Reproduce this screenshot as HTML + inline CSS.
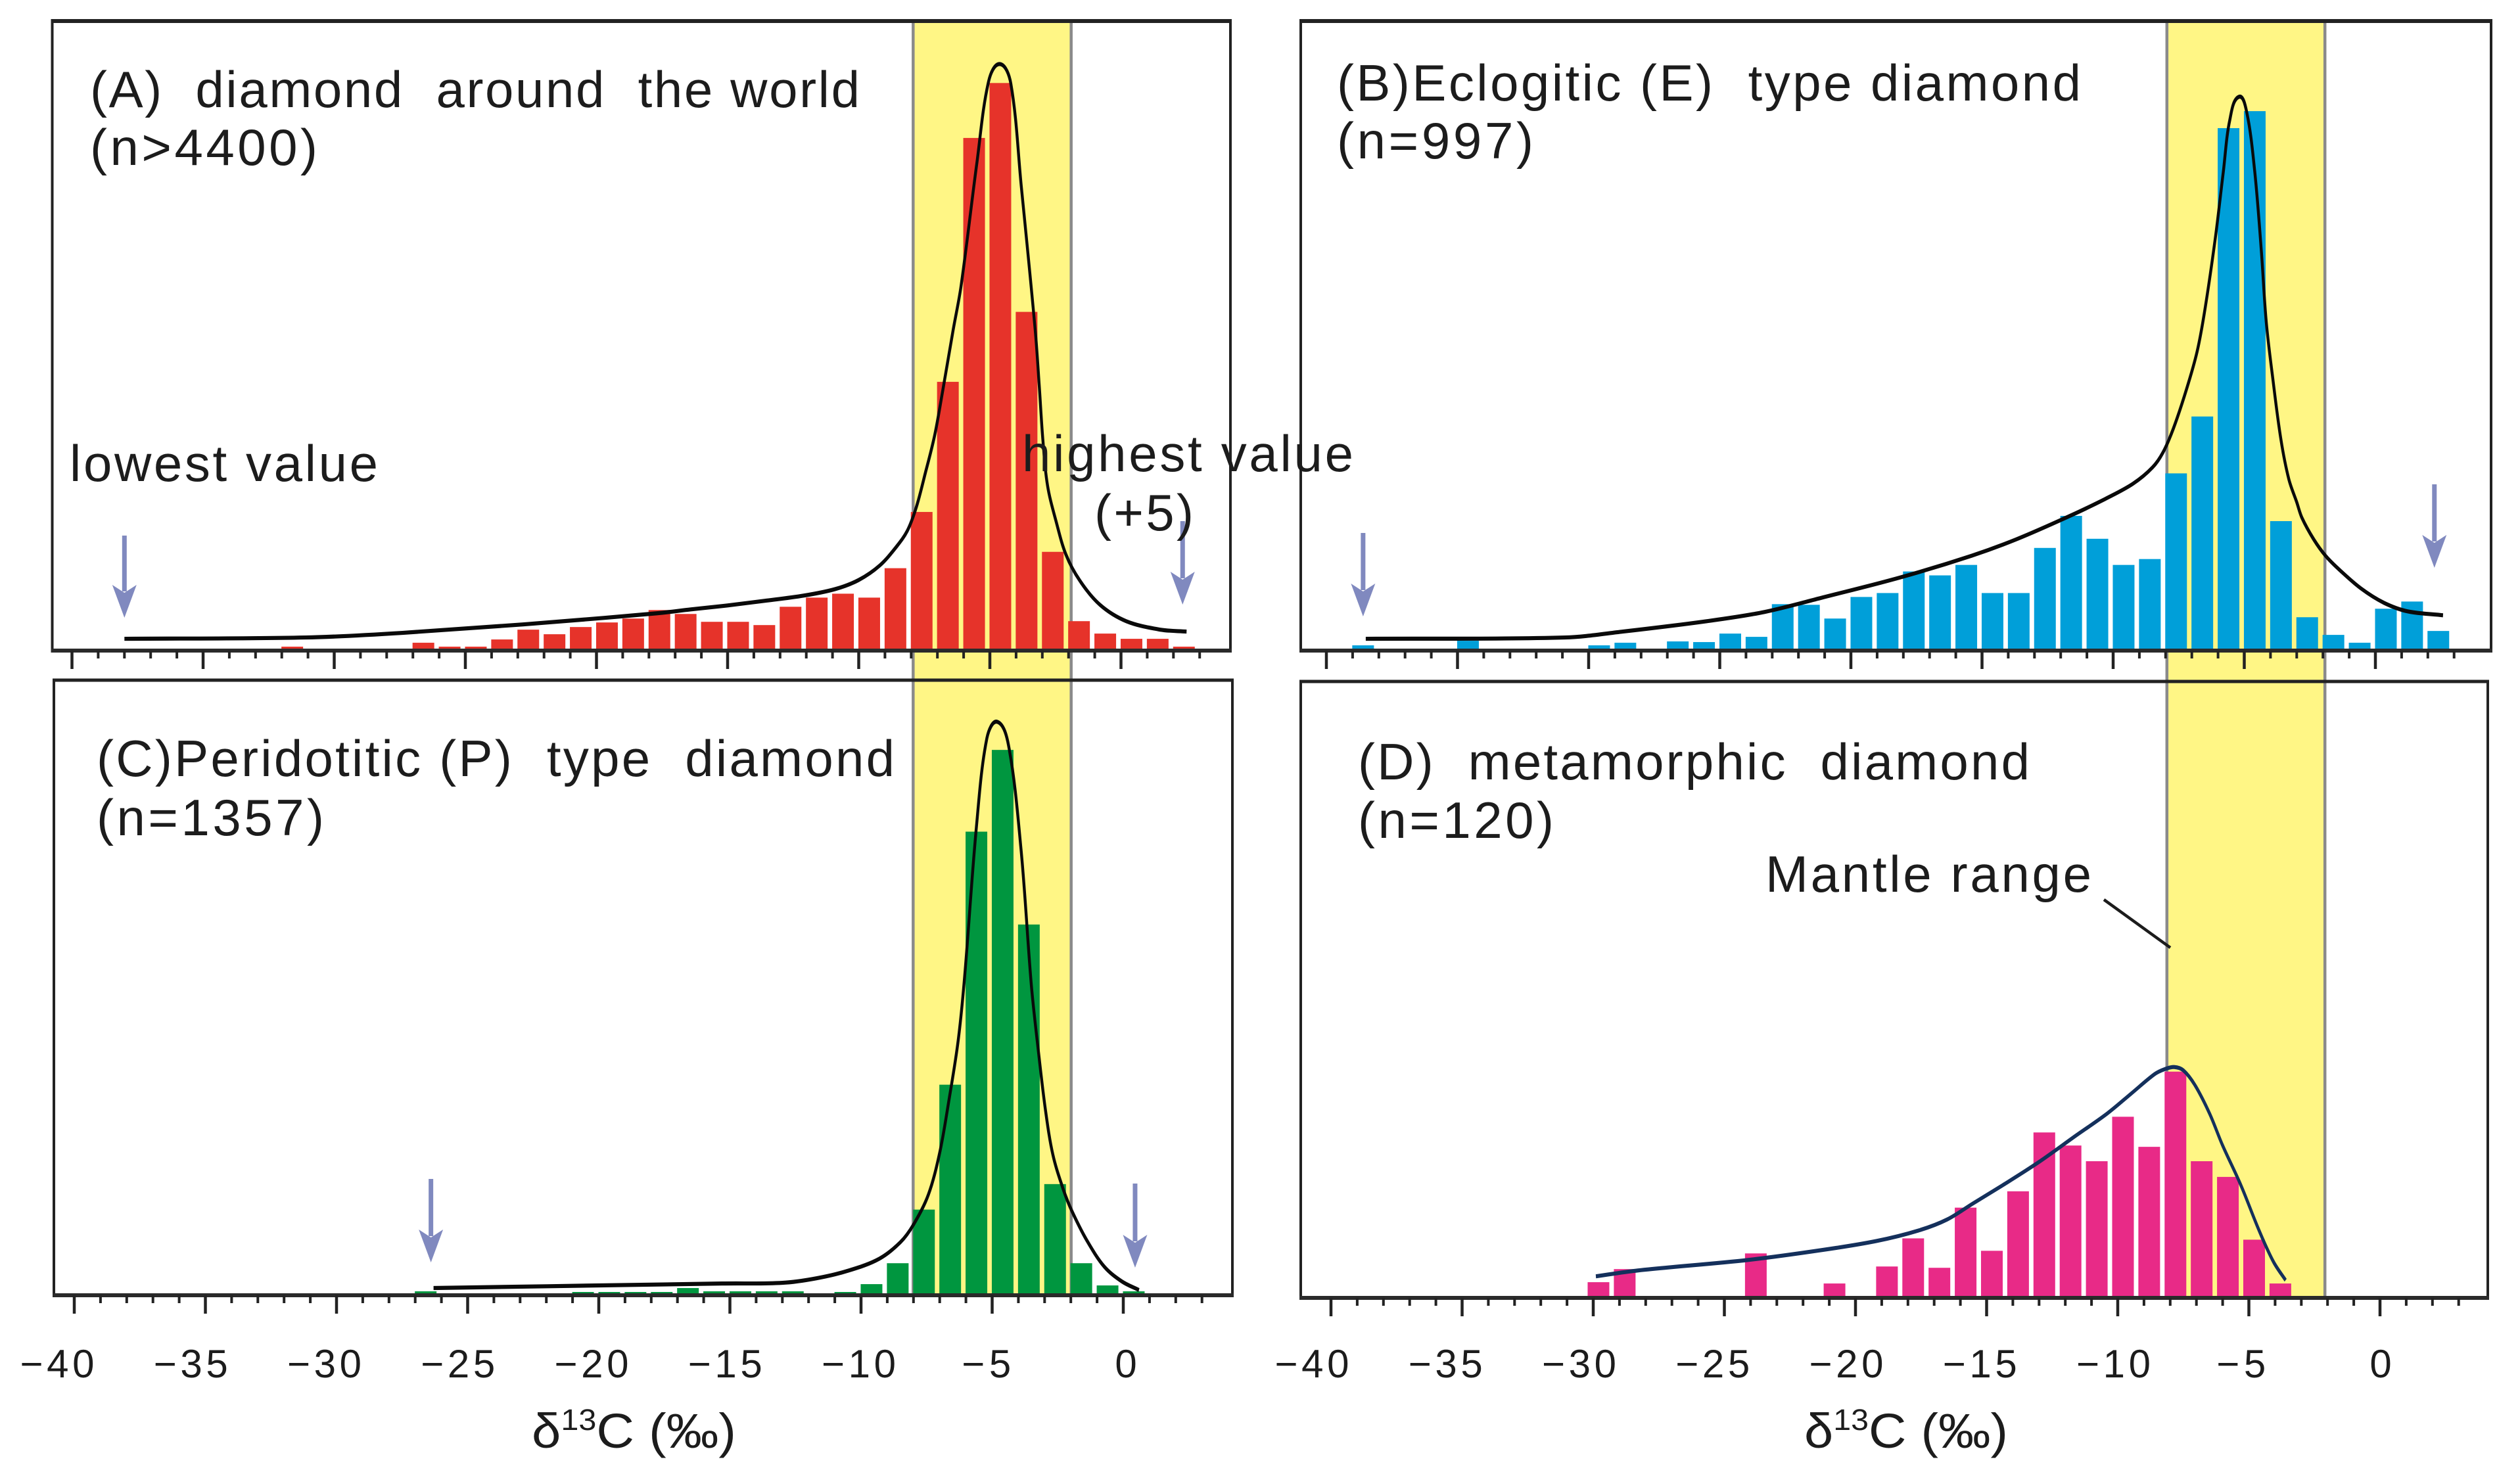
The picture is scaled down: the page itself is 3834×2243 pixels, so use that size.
<!DOCTYPE html>
<html lang="en">
<head>
<meta charset="utf-8">
<title>Diamond carbon isotope histograms</title>
<style>
html,body{margin:0;padding:0;background:#fff;}
svg{display:block;}
text{font-family:"Liberation Sans",Arial,sans-serif;fill:#1c1c1c;white-space:pre;}
</style>
</head>
<body>
<svg id="chart" xmlns="http://www.w3.org/2000/svg" width="3834" height="2243" viewBox="0 0 3834 2243">
  <rect x="0" y="0" width="3834" height="2243" fill="#ffffff"/>
  <g id="bands"></g>
  <g id="marks"></g>
  <g id="frames"></g>
  <g id="arrows"></g>
  <g id="labels"></g>
  <g font-size="78">
    <text x="137" y="163" textLength="1171" xml:space="preserve">(A)  diamond  around  the world</text>
    <text x="137" y="251" textLength="346">(n&gt;4400)</text>
    <text x="106" y="732" textLength="469">lowest value</text>
    <text x="1555" y="717" textLength="504">highest value</text>
    <text x="1665" y="807" textLength="151">(+5)</text>
    <text x="2034" y="153" textLength="1132" xml:space="preserve">(B)Eclogitic (E)  type diamond</text>
    <text x="2034" y="241" textLength="299">(n=997)</text>
    <text x="147" y="1181" textLength="1214" xml:space="preserve">(C)Peridotitic (P)  type  diamond</text>
    <text x="147" y="1271" textLength="346">(n=1357)</text>
    <text x="2066" y="1186" textLength="1022" xml:space="preserve">(D)  metamorphic  diamond</text>
    <text x="2066" y="1275" textLength="298">(n=120)</text>
    <text x="2686" y="1357" textLength="496">Mantle range</text>
    <line x1="3201" y1="1369" x2="3302" y2="1442" stroke="#1c1c1c" stroke-width="4.5"/>
  </g>
  <g font-size="74">
    <text x="809" y="2203" textLength="311" lengthAdjust="spacingAndGlyphs">δ<tspan font-size="45" dy="-27">13</tspan><tspan dy="27">C (‰)</tspan></text>
    <text x="2745" y="2203" textLength="310" lengthAdjust="spacingAndGlyphs">δ<tspan font-size="45" dy="-27">13</tspan><tspan dy="27">C (‰)</tspan></text>
  </g>
</svg>
<script>
// Axis ticks and labels
const majorTicks = [-40, -35, -30, -25, -20, -15, -10, -5, 0];
const minorTicks = [-39,-38,-37,-36,-34,-33,-32,-31,-29,-28,-27,-26,-24,-23,-22,-21,-19,-18,-17,-16,-14,-13,-12,-11,-9,-8,-7,-6,-4,-3,-2,-1,1,2,3];
const mantleRange = [-8, -2];

// Panel A: diamond around the world
const aBins = [-31.6,-26.6,-25.6,-24.6,-23.6,-22.6,-21.6,-20.6,-19.6,-18.6,-17.6,-16.6,-15.6,-14.6,-13.6,-12.6,-11.6,-10.6,-9.6,-8.6,-7.6,-6.6,-5.6,-4.6,-3.6,-2.6,-1.6,-0.6,0.4,1.4,2.4];
const aValues = [0.4,1.0,0.4,0.4,1.5,3.0,2.3,3.4,4.1,4.7,6.0,5.4,4.2,4.2,3.7,6.5,7.9,8.5,7.9,12.4,21.0,40.9,78.2,86.6,51.6,14.9,4.3,2.4,1.6,1.6,0.4];
const aCurveX = [-38,-31.1,-27.4,-22.8,-17.7,-16.4,-15,-13.6,-12.1,-10.9,-10,-9.2,-8.6,-8.15,-7.8,-7.45,-7.1,-6.8,-6.4,-6.1,-5.5,-5.05,-4.62,-4.2,-3.8,-3.27,-3.12,-2.98,-2.8,-2.47,-2.1,-1.57,-0.8,0.2,1.5,2.5];
const aCurveY = [1.6,1.8,2.5,3.8,5.5,6.1,6.7,7.4,8.2,9.2,10.6,12.8,15.5,18.1,21.8,27.1,32.8,39.5,48.8,55.5,74.2,86.8,89.5,86.5,70.7,48.8,40.5,32.1,25.0,19.5,14.5,10.5,6.8,4.3,3,2.7];

// Panel B: eclogitic diamond
const bBins = [-38.6,-34.6,-29.6,-28.6,-26.6,-25.6,-24.6,-23.6,-22.6,-21.6,-20.6,-19.6,-18.6,-17.6,-16.6,-15.6,-14.6,-13.6,-12.6,-11.6,-10.6,-9.6,-8.6,-7.6,-6.6,-5.6,-4.6,-3.6,-2.6,-1.6,-0.6,0.4,1.4,2.4];
const bValues = [0.6,1.3,0.6,1.0,1.2,1.1,2.4,1.9,6.9,6.8,4.7,8.0,8.6,11.9,11.3,12.9,8.6,8.6,15.5,20.4,16.9,12.9,13.8,26.9,35.6,79.7,82.3,19.6,4.9,2.2,1.0,6.2,7.3,2.8];
const bCurveX = [-38.5,-30.9,-28.7,-25.5,-23.3,-21.1,-18.1,-15.4,-13.7,-11.7,-10.3,-9.25,-8.5,-8.1,-7.7,-7.2,-6.8,-6.5,-6.1,-5.8,-5.55,-5.2,-4.9,-4.6,-4.35,-4.16,-3.9,-3.6,-3.3,-3.0,-2.8,-2.35,-1.9,-1.33,-0.55,0.33,1.23,2.58];
const bCurveY = [1.6,1.8,2.7,4.3,5.7,7.9,11,14.3,16.8,20.3,23,25.3,27.8,30.1,33.8,39.8,45.5,52,63,73,81,84.5,82,73,61,50,41,32,26,22.5,20.1,16.8,14.3,12,9.3,7.1,5.8,5.2];

// Panel C: peridotitic diamond
const cBins = [-26.6,-20.6,-19.6,-18.6,-17.6,-16.6,-15.6,-14.6,-13.6,-12.6,-10.6,-9.6,-8.6,-7.6,-6.6,-5.6,-4.6,-3.6,-2.6,-1.6,-0.6,0.4];
const cValues = [0.4,0.3,0.3,0.3,0.3,0.9,0.4,0.4,0.4,0.4,0.3,1.5,4.7,12.9,32.0,70.7,83.2,56.5,16.8,4.7,1.3,0.4];
const cCurveX = [-26.3,-15.3,-13,-11.7,-10.45,-9.3,-8.5,-8,-7.43,-7,-6.65,-6.3,-6.05,-5.6,-5.2,-4.8,-4.37,-3.9,-3.5,-3.23,-2.96,-2.68,-2.28,-1.95,-1.39,-0.73,-0.05,0.6];
const cCurveY = [0.9,1.6,1.7,2.4,3.6,5.4,7.9,10.6,15.2,21.6,29.6,38.6,48.5,71.5,85,87.5,83.8,68,47,36.9,27.9,21.2,15.9,12.6,8.2,4.2,1.9,0.6];

// Panel D: metamorphic diamond
const dBins = [-29.8,-28.8,-23.8,-20.8,-18.8,-17.8,-16.8,-15.8,-14.8,-13.8,-12.8,-11.8,-10.8,-9.8,-8.8,-7.8,-6.8,-5.8,-4.8,-3.8];
const dValues = [2.1,4.1,6.5,1.9,4.5,8.8,4.3,13.5,6.9,16.0,25.0,23.0,20.6,27.4,22.8,34.3,20.6,18.2,8.6,1.9];
const dCurveX = [-29.9,-28.3,-24.1,-21.3,-19.2,-17.6,-16.5,-15.5,-14.4,-13,-11.6,-10.4,-9.5,-8.6,-8.2,-7.85,-7.5,-7.05,-6.5,-6,-5.3,-4.6,-4.06,-3.6];
const dCurveY = [3,3.9,5.5,7,8.4,10,11.7,14.2,16.9,20.5,24.5,27.9,30.9,33.9,34.7,35,34.5,32.2,27.9,23,16.9,9.9,5.2,2.4];

const SVGNS = 'http://www.w3.org/2000/svg';
const STEP = 39.9;
const UNIT = 9.95;
const BAR_W = 33;
const LINE_SQUASH = 1.4;

const panels = [
  { key:'a', bins:aBins, vals:aValues, cx:aCurveX, cy:aCurveY, x0:1705.5, base:988, axisY:990, left:79.5, right:1872, top:32, color:'#e6332a', line:'#0a0a0a', labelX0:1713, showLabels:false },
  { key:'b', bins:bBins, vals:bValues, cx:bCurveX, cy:bCurveY, x0:3614, base:988, axisY:990, left:1979, right:3790, top:32, color:'#009fd9', line:'#0a0a0a', labelX0:3622, showLabels:false },
  { key:'c', bins:cBins, vals:cValues, cx:cCurveX, cy:cCurveY, x0:1709, base:1969, axisY:1971, left:82, right:1875, top:1035, color:'#00963f', line:'#0a0a0a', labelX0:1713, showLabels:true },
  { key:'d', bins:dBins, vals:dValues, cx:dCurveX, cy:dCurveY, x0:3621, base:1972, axisY:1975, left:1979, right:3785, top:1037, color:'#e82a87', line:'#14305c', labelX0:3622, showLabels:true }
];

function make(tag, attrs, parent) {
  const node = document.createElementNS(SVGNS, tag);
  for (const k in attrs) node.setAttribute(k, attrs[k]);
  parent.appendChild(node);
  return node;
}
function xScale(p, v) { return p.x0 + v * STEP; }
function yScale(p, f) { return p.base - f * UNIT; }
function tangent(a, b, len) {
  const dx = b[0] - a[0], dy = b[1] - a[1], d = Math.hypot(dx, dy) || 1;
  return [dx / d * len / 3, dy / d * len / 3];
}
function smoothPath(pts) {
  let d = 'M' + pts[0][0].toFixed(1) + ' ' + pts[0][1].toFixed(1);
  for (let i = 0; i < pts.length - 1; i++) {
    const p0 = pts[Math.max(0, i - 1)], p1 = pts[i], p2 = pts[i + 1], p3 = pts[Math.min(pts.length - 1, i + 2)];
    const len = Math.hypot(p2[0] - p1[0], p2[1] - p1[1]);
    const t1 = tangent(p0, p2, len), t2 = tangent(p1, p3, len);
    d += 'C' + (p1[0] + t1[0]).toFixed(1) + ' ' + (p1[1] + t1[1]).toFixed(1) + ' ' + (p2[0] - t2[0]).toFixed(1) + ' ' + (p2[1] - t2[1]).toFixed(1) + ' ' + p2[0].toFixed(1) + ' ' + p2[1].toFixed(1);
  }
  return d;
}

const bandLayer = document.getElementById('bands');
const markLayer = document.getElementById('marks');
const frameLayer = document.getElementById('frames');
const arrowLayer = document.getElementById('arrows');
const labelLayer = document.getElementById('labels');

// Mantle-range bands span the upper and lower panel in each column
[[panels[0], panels[2], 'left'], [panels[1], panels[3], 'right']].forEach(function (col) {
  const up = col[0], low = col[1];
  const xa = xScale(up, mantleRange[0]) + (col[2] === 'left' ? 3 : 2);
  const xb = xScale(up, mantleRange[1]) + (col[2] === 'left' ? 4 : 3);
  const band = make('rect', { x: xa, y: up.top + 3, width: xb - xa, height: low.axisY - up.top - 3, fill: '#fff685' }, bandLayer);
  
  
  [xa, xb].forEach(function (x, i) {
    const edge = make('line', { x1: x, x2: x, y1: up.top + 3, y2: low.axisY, stroke: '#8a8a8a', 'stroke-width': 4.5 }, bandLayer);
    
    
  });
});

panels.forEach(function (p) {
  const g = make('g', {}, markLayer);
  
  
  p.bins.forEach(function (bin, i) {
    const top = yScale(p, p.vals[i]);
    const bar = make('rect', { x: xScale(p, bin) - BAR_W / 2, y: top, width: BAR_W, height: p.base - top, fill: p.color }, g);
    
    
  });
  // The stroke is squashed so flat runs read heavier than steep ones, as in the source figure
  const pts = p.cx.map(function (v, i) { return [xScale(p, v), yScale(p, p.cy[i]) / LINE_SQUASH]; });
  const curve = make('path', { d: smoothPath(pts), fill: 'none', stroke: p.line, 'stroke-width': 4.4, 'stroke-linejoin': 'round', transform: 'scale(1 ' + LINE_SQUASH + ')' }, g);
  
  

  const fg = make('g', { stroke: '#222222', fill: 'none' }, frameLayer);
  
  
  const frame = make('rect', { x: p.left, y: p.top, width: p.right - p.left, height: p.axisY - p.top, 'stroke-width': 4 }, fg);
  
  
  const topEdge = make('line', { x1: p.left - 2, x2: p.right + 2, y1: p.top, y2: p.top, 'stroke-width': p.top < 100 ? 6 : 5 }, fg);
  
  
  const axis = make('line', { x1: p.left - 2, x2: p.right + 2, y1: p.axisY, y2: p.axisY, 'stroke-width': 6, stroke: '#2a2a2a' }, fg);
  
  

  majorTicks.forEach(function (v) {
    const t = make('line', { x1: xScale(p, v), x2: xScale(p, v), y1: p.axisY, y2: p.axisY + 28, 'stroke-width': 4.5 }, fg);
    
    
    if (p.showLabels) {
      const wide = v <= -10;
      const nudge = v === -5 ? -9 : 0;
      const attrs = { x: p.labelX0 + v * 40.65 + nudge, y: 2096, 'font-size': 60, 'text-anchor': 'middle' };
      if (v !== 0) { attrs.textLength = wide ? 113 : 75; }
      const label = make('text', attrs, labelLayer);
      label.textContent = v < 0 ? '\u2212' + Math.abs(v) : String(v);
      
      
    }
  });
  minorTicks.forEach(function (v) {
    const t = make('line', { x1: xScale(p, v), x2: xScale(p, v), y1: p.axisY, y2: p.axisY + 12, 'stroke-width': 4 }, fg);
    
    
  });
});

// Range arrows: [panel, centre value, arrow top, arrow tip, name]
const rangeArrows = [
  [panels[0], -38.0, 815, 940, 'a-lowest'],
  [panels[0], 2.35, 793, 920, 'a-highest'],
  [panels[1], -38.6, 811, 938, 'b-lowest'],
  [panels[1], 2.25, 737, 864, 'b-highest'],
  [panels[2], -26.4, 1794, 1921, 'c-lowest'],
  [panels[2], 0.45, 1801, 1929, 'c-highest']
];
rangeArrows.forEach(function (a) {
  const x = xScale(a[0], a[1]);
  const top = a[2], tip = a[3];
  const g = make('g', { fill: '#8089bf', stroke: 'none' }, arrowLayer);
  
  
  make('rect', { x: x - 3.5, y: top, width: 7, height: tip - top - 40 }, g);
  make('polygon', { points: [x, tip, x - 18.5, tip - 50, x, tip - 38, x + 18.5, tip - 50].join(' ') }, g);
});
</script>
</body>
</html>
